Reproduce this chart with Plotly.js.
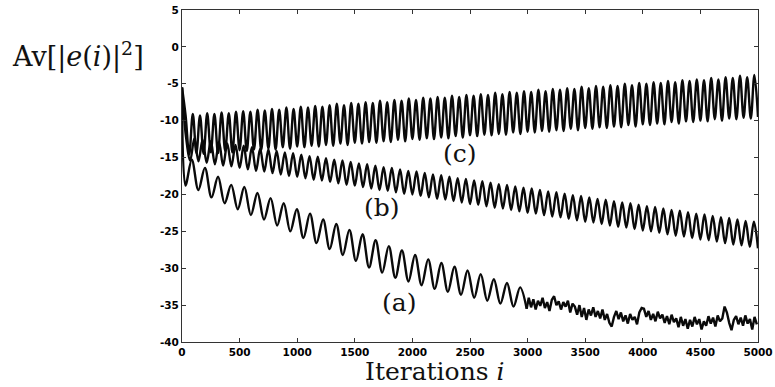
<!DOCTYPE html>
<html>
<head>
<meta charset="utf-8">
<script src="https://cdn.plot.ly/plotly-3.0.1.min.js"></script>
<style>html,body{margin:0;padding:0;background:#fff;}#plot{width:775px;height:387px;}</style>
</head>
<body>
<div id="plot"></div>
<script>
// ---- data ----
const xTickVals = [0, 500, 1000, 1500, 2000, 2500, 3000, 3500, 4000, 4500, 5000];
const xTickText = ["0", "500", "1000", "1500", "2000", "2500", "3000", "3500", "4000", "4500", "5000"];
const yTickVals = [5, 0, -5, -10, -15, -20, -25, -30, -35, -40];
const yTickText = ["5", "0", "-5", "-10", "-15", "-20", "-25", "-30", "-35", "-40"];

const startValue = -5.5;

// curve (c): oscillation period (iterations), successive maxima and minima (dB)
const cPeriod = 62.5;
const cPeaks = [-9.3,-9.1,-9.3,-9.0,-9.1,-8.9,-9.0,-8.8,-8.7,-8.8,
  -8.5,-8.6,-8.4,-8.5,-8.2,-8.4,-8.1,-8.2,-8.0,-8.1,
  -7.9,-7.7,-7.9,-7.6,-7.7,-7.5,-7.6,-7.3,-7.5,-7.2,
  -7.3,-7.0,-7.2,-6.9,-7.0,-6.8,-6.9,-6.6,-6.8,-6.5,
  -6.6,-6.4,-6.5,-6.2,-6.4,-6.1,-6.2,-6.0,-6.1,-5.8,
  -6.0,-5.7,-5.8,-5.6,-5.7,-5.4,-5.6,-5.3,-5.4,-5.2,
  -5.3,-5.0,-5.2,-4.9,-5.0,-4.8,-4.9,-4.6,-4.8,-4.5,
  -4.6,-4.4,-4.5,-4.2,-4.4,-4.1,-4.2,-3.9,-4.1,-3.8];
const cTroughs = [-14.6,-14.4,-14.5,-14.3,-14.4,-14.1,-14.3,-14.0,-14.1,-13.9,
  -14.0,-13.8,-13.9,-13.6,-13.8,-13.5,-13.6,-13.4,-13.5,-13.3,
  -13.4,-13.1,-13.3,-13.0,-13.1,-12.9,-13.0,-12.8,-12.9,-12.6,
  -12.8,-12.5,-12.6,-12.4,-12.5,-12.3,-12.4,-12.1,-12.3,-12.0,
  -12.1,-11.9,-12.0,-11.8,-11.9,-11.6,-11.8,-11.5,-11.6,-11.4,
  -11.5,-11.3,-11.4,-11.1,-11.3,-11.0,-11.1,-10.9,-11.0,-10.8,
  -10.9,-10.6,-10.8,-10.5,-10.6,-10.4,-10.5,-10.2,-10.4,-10.1,
  -10.2,-10.0,-10.1,-9.8,-10.0,-9.7,-9.8,-9.6,-9.7,-9.5];

// curve (b)
const bPeriod = 5000 / 70;
const bPeaks = [-12.3,-12.4,-12.6,-12.8,-12.9,-13.1,-13.3,-13.4,-13.6,-13.8,
  -13.9,-14.1,-14.3,-14.4,-14.6,-14.8,-14.9,-15.1,-15.3,-15.4,
  -15.6,-15.8,-15.9,-16.1,-16.3,-16.4,-16.6,-16.8,-16.9,-17.1,
  -17.3,-17.4,-17.6,-17.8,-17.9,-18.1,-18.2,-18.4,-18.6,-18.7,
  -18.9,-19.1,-19.2,-19.4,-19.6,-19.7,-19.9,-20.1,-20.2,-20.4,
  -20.6,-20.7,-20.9,-21.1,-21.2,-21.4,-21.6,-21.7,-21.9,-22.1,
  -22.2,-22.4,-22.6,-22.7,-22.9,-23.1,-23.2,-23.4,-23.6,-23.7];
const bTroughs = [-15.4,-15.5,-15.7,-15.9,-16.1,-16.2,-16.4,-16.6,-16.8,-16.9,
  -17.1,-17.3,-17.5,-17.6,-17.8,-18.0,-18.1,-18.3,-18.5,-18.7,
  -18.8,-19.0,-19.2,-19.4,-19.5,-19.7,-19.9,-20.0,-20.2,-20.4,
  -20.6,-20.7,-20.9,-21.1,-21.3,-21.4,-21.6,-21.8,-21.9,-22.1,
  -22.3,-22.5,-22.6,-22.8,-23.0,-23.1,-23.3,-23.5,-23.7,-23.8,
  -24.0,-24.2,-24.4,-24.5,-24.7,-24.9,-25.0,-25.2,-25.4,-25.6,
  -25.7,-25.9,-26.1,-26.2,-26.4,-26.6,-26.8,-26.9,-27.1,-27.3];

// curve (a): decaying oscillation, then a noisy floor
const aPeriod = 114;
const aFirstPeak = 85;
const aLead = { x: [30], y: [-18.8] };
const aPeaks = [-15.3,-16.4,-17.6,-18.7,-19.0,-19.8,-20.5,-21.2,-22.0,-22.6,
  -23.4,-24.0,-24.8,-25.4,-26.2,-27.0,-27.6,-28.2,-28.8,-29.3,
  -29.8,-30.3,-30.8,-31.5,-32.0,-32.6];
const aTroughs = [-19.4,-20.4,-21.2,-22.0,-22.8,-23.4,-24.2,-25.0,-25.9,-26.6,
  -27.4,-28.2,-29.0,-29.9,-30.6,-31.3,-31.8,-32.3,-32.8,-33.2,
  -33.6,-34.0,-34.4,-34.8,-35.2,-35.5];
const aNoiseStart = 3010, aNoiseStep = 20;
const aNoise = [-34.0,-35.3,-34.2,-35.6,-34.4,-35.1,-34.0,-35.4,-34.6,-35.8,
  -34.3,-33.8,-35.0,-34.5,-35.6,-34.6,-35.2,-34.4,-36.0,-34.8,
  -35.2,-36.3,-35.0,-36.6,-35.4,-37.0,-35.6,-36.4,-35.3,-36.6,
  -35.8,-36.8,-35.6,-37.0,-36.2,-37.4,-37.9,-36.6,-35.8,-36.9,
  -36.0,-37.2,-36.4,-37.5,-36.2,-37.0,-36.6,-37.6,-36.0,-35.4,
  -35.5,-36.6,-35.8,-37.0,-36.2,-37.2,-35.9,-36.8,-36.3,-37.4,
  -36.5,-37.6,-36.3,-37.3,-36.8,-38.0,-36.6,-37.8,-36.9,-38.2,
  -37.0,-37.9,-36.6,-37.6,-36.9,-38.3,-37.2,-37.8,-36.5,-37.5,
  -36.7,-37.9,-36.4,-37.2,-36.8,-35.2,-36.0,-37.4,-38.4,-37.0,
  -36.5,-37.6,-36.7,-37.8,-36.4,-37.5,-36.9,-38.3,-36.6,-37.6];

const labels = ["(a)", "(b)", "(c)"];

// ---- build series ----
function oscSeries(period, firstPeak, peaks, troughs) {
  const x = [0], y = [startValue];
  for (let n = 0; n < peaks.length; n++) {
    x.push(firstPeak + n * period); y.push(peaks[n]);
    x.push(firstPeak + n * period + period / 2); y.push(troughs[n]);
  }
  return { x, y };
}
const c = oscSeries(cPeriod, cPeriod / 2, cPeaks, cTroughs);
const b = oscSeries(bPeriod, bPeriod / 2, bPeaks, bTroughs);
const aOsc = oscSeries(aPeriod, aFirstPeak, aPeaks, aTroughs);
aOsc.x.splice(1, 0, ...aLead.x); aOsc.y.splice(1, 0, ...aLead.y);
const aN = { x: aNoise.map((v, i) => aNoiseStart + i * aNoiseStep), y: aNoise };

const lineStyle = { color: '#0a0a0a', width: 2.4, shape: 'spline', smoothing: 1 };
const traces = [
  { x: c.x, y: c.y, mode: 'lines', line: lineStyle, hoverinfo: 'skip' },
  { x: b.x, y: b.y, mode: 'lines', line: lineStyle, hoverinfo: 'skip' },
  { x: aOsc.x, y: aOsc.y, mode: 'lines', line: lineStyle, hoverinfo: 'skip' },
  { x: [aOsc.x[aOsc.x.length - 1]].concat(aN.x), y: [aOsc.y[aOsc.y.length - 1]].concat(aN.y), mode: 'lines',
    line: { color: '#0a0a0a', width: 2.4, shape: 'linear' }, hoverinfo: 'skip' }
];

const tickFont = { family: 'DejaVu Sans', size: 10.5, color: '#000', weight: 700 };
const serif = { family: 'DejaVu Serif', size: 25, color: '#111' };
const axisCommon = {
  showline: true, linecolor: '#333', linewidth: 1, mirror: 'ticks',
  ticks: 'inside', ticklen: 4, tickcolor: '#333', showgrid: false, zeroline: false,
  tickfont: tickFont, fixedrange: true
};

const layout = {
  width: 775, height: 387,
  margin: { l: 182, r: 17, t: 10, b: 45 },
  paper_bgcolor: '#fff', plot_bgcolor: '#fff',
  showlegend: false,
  xaxis: Object.assign({}, axisCommon, { range: [0, 5000], tickvals: xTickVals, ticktext: xTickText }),
  yaxis: Object.assign({}, axisCommon, { range: [-40, 5], tickvals: yTickVals, ticktext: yTickText }),
  annotations: [
    { text: 'Av[|<i>e</i>(<i>i</i>)|<sup>2</sup>]', xref: 'paper', yref: 'paper', x: -0.18, y: 0.865,
      xanchor: 'center', yanchor: 'middle', showarrow: false,
      font: { family: 'DejaVu Serif', size: 27, color: '#111' } },
    { text: 'Iterations <i>i</i>', xref: 'paper', yref: 'paper', x: 0.439, y: -0.09,
      xanchor: 'center', yanchor: 'middle', showarrow: false, font: serif },
    { text: labels[0], x: 1880, y: -34.6, xref: 'x', yref: 'y', showarrow: false, font: serif },
    { text: labels[1], x: 1740, y: -21.8, xref: 'x', yref: 'y', showarrow: false, font: serif },
    { text: labels[2], x: 2410, y: -14.4, xref: 'x', yref: 'y', showarrow: false, font: serif }
  ]
};

Plotly.newPlot('plot', traces, layout, { displayModeBar: false, staticPlot: true });
</script>
</body>
</html>
